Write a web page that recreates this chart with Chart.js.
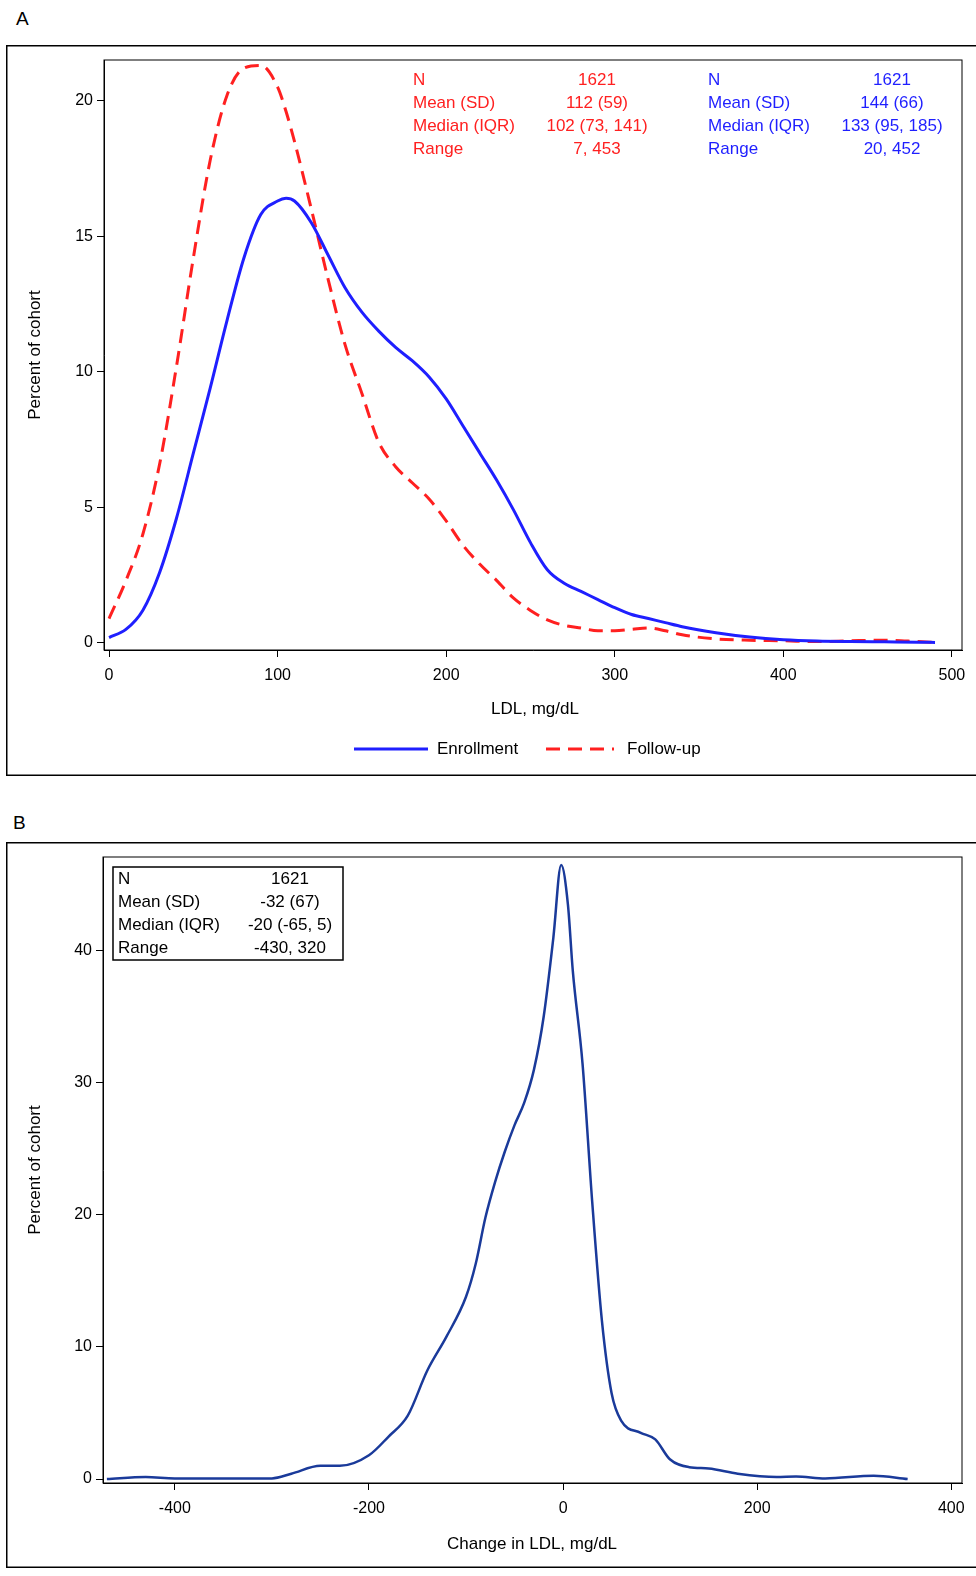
<!DOCTYPE html>
<html><head><meta charset="utf-8">
<script src="https://cdn.jsdelivr.net/npm/chart.js@4"></script>
<style>
body{margin:0;background:#fff;font-family:"Liberation Sans",Arial,sans-serif;}
.lbl{position:absolute;font-size:19px;color:#000;}
.pan{position:absolute;left:6px;width:970px;}
</style></head><body>
<div class="lbl" style="left:16px;top:8px">A</div>
<div class="lbl" style="left:13px;top:812px">B</div>
<div class="pan" style="top:45px;height:731px"><canvas id="ca"></canvas></div>
<div class="pan" style="top:842px;height:726px"><canvas id="cb"></canvas></div>
<script>
var ldlX = [0,10,20,30,40,50,60,70,80,90,100,105,110,120,130,140,150,160,170,180,190,200,210,220,230,240,250,260,270,280,290,300,310,320,330,340,360,380,400,420,440,460,480,490];
var enrollment = [0.2,0.5,1.2,2.6,4.6,7.0,9.4,11.9,14.2,15.8,16.3,16.4,16.3,15.5,14.3,13.1,12.2,11.5,10.9,10.4,9.8,9.0,8.0,7.0,6.0,4.9,3.7,2.7,2.2,1.9,1.6,1.3,1.05,0.9,0.75,0.6,0.38,0.22,0.12,0.07,0.05,0.04,0.03,0.02];
var followup = [0.9,2.3,4.0,6.6,10.2,14.2,17.8,20.2,21.2,21.3,20.5,19.6,18.5,16.0,13.4,11.0,9.2,7.4,6.5,5.9,5.3,4.5,3.6,2.9,2.3,1.65,1.2,0.85,0.65,0.55,0.45,0.45,0.5,0.55,0.45,0.3,0.15,0.1,0.08,0.05,0.08,0.1,0.05,0.02];
var chgX = [-470,-430,-400,-300,-280,-250,-230,-200,-180,-160,-140,-120,-100,-90,-80,-70,-60,-50,-40,-30,-20,-10,-2,5,10,20,30,40,50,60,80,95,110,130,150,180,220,240,270,320,355];
var change = [0,0.15,0.05,0.05,0.4,1.0,1.0,1.8,3.2,4.8,8.2,10.8,13.8,16.3,19.8,22.5,24.8,26.8,28.5,31,35,41,46.5,43.5,38.5,31.5,21,12,6.5,4.4,3.5,3.0,1.5,0.9,0.8,0.4,0.15,0.2,0.05,0.25,0];
var ticksA = [0,100,200,300,400,500];
var ticksB = [-400,-200,0,200,400];

var FONT = '"Liberation Sans", Arial, sans-serif';
function pts(xs, ys){ return xs.map(function(x,i){ return {x:x, y:ys[i]}; }); }

function overlay(offTop, draw){
  return { id:'ov', afterDraw:function(ch){
    var c = ch.ctx, a = ch.chartArea;
    c.save();
    c.strokeStyle = '#000'; c.lineWidth = 1.5;
    c.strokeRect(0.75, 0.75, ch.width + 10, ch.height - 1.5);
    c.lineWidth = 1;
    c.strokeRect(a.left, a.top, a.right - a.left, a.bottom - a.top);
    c.translate(-6, -offTop);
    draw(c);
    c.restore();
  }};
}
function txt(c, s, x, y, col, align){
  c.fillStyle = col; c.textAlign = align || 'left'; c.textBaseline = 'middle';
  c.font = '17px ' + FONT; c.fillText(s, x, y);
}
function yTitle(c, s, x, y){
  c.save(); c.translate(x, y); c.rotate(-Math.PI/2);
  txt(c, s, 0, 0, '#000', 'center'); c.restore();
}
function mkScales(xmin, xmax, ymin, ymax, xt, yt, yw, xh){
  return {
    x:{type:'linear', min:xmin, max:xmax, afterBuildTicks:function(s){ s.ticks = xt.map(function(v){return {value:v};}); },
       afterFit:function(s){ s.height = xh; },
       grid:{drawOnChartArea:false, tickLength:7, color:'#000'}, border:{color:'#000'},
       ticks:{color:'#000', font:{size:16, family:FONT}, padding:9, maxRotation:0}},
    y:{type:'linear', min:ymin, max:ymax, afterBuildTicks:function(s){ s.ticks = yt.map(function(v){return {value:v};}); },
       afterFit:function(s){ s.width = yw; },
       grid:{drawOnChartArea:false, tickLength:7, color:'#000'}, border:{color:'#000'},
       ticks:{color:'#000', font:{size:16, family:FONT}, padding:4}}
  };
}
var base = {responsive:true, maintainAspectRatio:false, animation:false,
  plugins:{legend:{display:false}, tooltip:{enabled:false}},
  elements:{point:{radius:0}, line:{tension:0.4, borderWidth:3}}};

new Chart(document.getElementById('ca'), {
  type:'line',
  data:{datasets:[
    {label:'Enrollment', data:pts(ldlX, enrollment), borderColor:'#1f1fff', cubicInterpolationMode:'monotone'},
    {label:'Follow-up', data:pts(ldlX, followup), borderColor:'#ff2020', borderDash:[14,8], cubicInterpolationMode:'monotone'}
  ]},
  options:Object.assign({}, base, {
    layout:{padding:{top:15, right:14}},
    scales:mkScales(-3, 506, -0.26, 21.5, ticksA, [0,5,10,15,20], 98, 126)
  }),
  plugins:[overlay(45, function(c){
    var red = '#ff2020', blue = '#1f1fff';
    var rows = [['N','1621','1621'],['Mean (SD)','112 (59)','144 (66)'],['Median (IQR)','102 (73, 141)','133 (95, 185)'],['Range','7, 453','20, 452']];
    rows.forEach(function(r,i){
      var y = 80 + i*23;
      txt(c, r[0], 413, y, red); txt(c, r[1], 597, y, red, 'center');
      txt(c, r[0], 708, y, blue); txt(c, r[2], 892, y, blue, 'center');
    });
    yTitle(c, 'Percent of cohort', 35, 355);
    txt(c, 'LDL, mg/dL', 535, 709, '#000', 'center');
    c.lineWidth = 3;
    c.strokeStyle = blue; c.beginPath(); c.moveTo(354, 749); c.lineTo(428, 749); c.stroke();
    txt(c, 'Enrollment', 437, 749, '#000');
    c.strokeStyle = red; c.setLineDash([14,8]); c.beginPath(); c.moveTo(546, 749); c.lineTo(614, 749); c.stroke();
    c.setLineDash([]);
    txt(c, 'Follow-up', 627, 749, '#000');
  })]
});

new Chart(document.getElementById('cb'), {
  type:'line',
  data:{datasets:[
    {label:'Change', data:pts(chgX, change), borderColor:'#1a3a9a', borderWidth:2.5, cubicInterpolationMode:'monotone'}
  ]},
  options:Object.assign({}, base, {
    layout:{padding:{top:15, right:14}},
    scales:mkScales(-474, 411, -0.3, 47.1, ticksB, [0,10,20,30,40], 97, 85)
  }),
  plugins:[overlay(842, function(c){
    c.strokeStyle = '#000'; c.lineWidth = 1.5;
    c.strokeRect(113, 867, 230, 93);
    var rows = [['N','1621'],['Mean (SD)','-32 (67)'],['Median (IQR)','-20 (-65, 5)'],['Range','-430, 320']];
    rows.forEach(function(r,i){
      var y = 879 + i*23;
      txt(c, r[0], 118, y, '#000'); txt(c, r[1], 290, y, '#000', 'center');
    });
    yTitle(c, 'Percent of cohort', 35, 1170);
    txt(c, 'Change in LDL, mg/dL', 532, 1544, '#000', 'center');
  })]
});
</script>
</body></html>
